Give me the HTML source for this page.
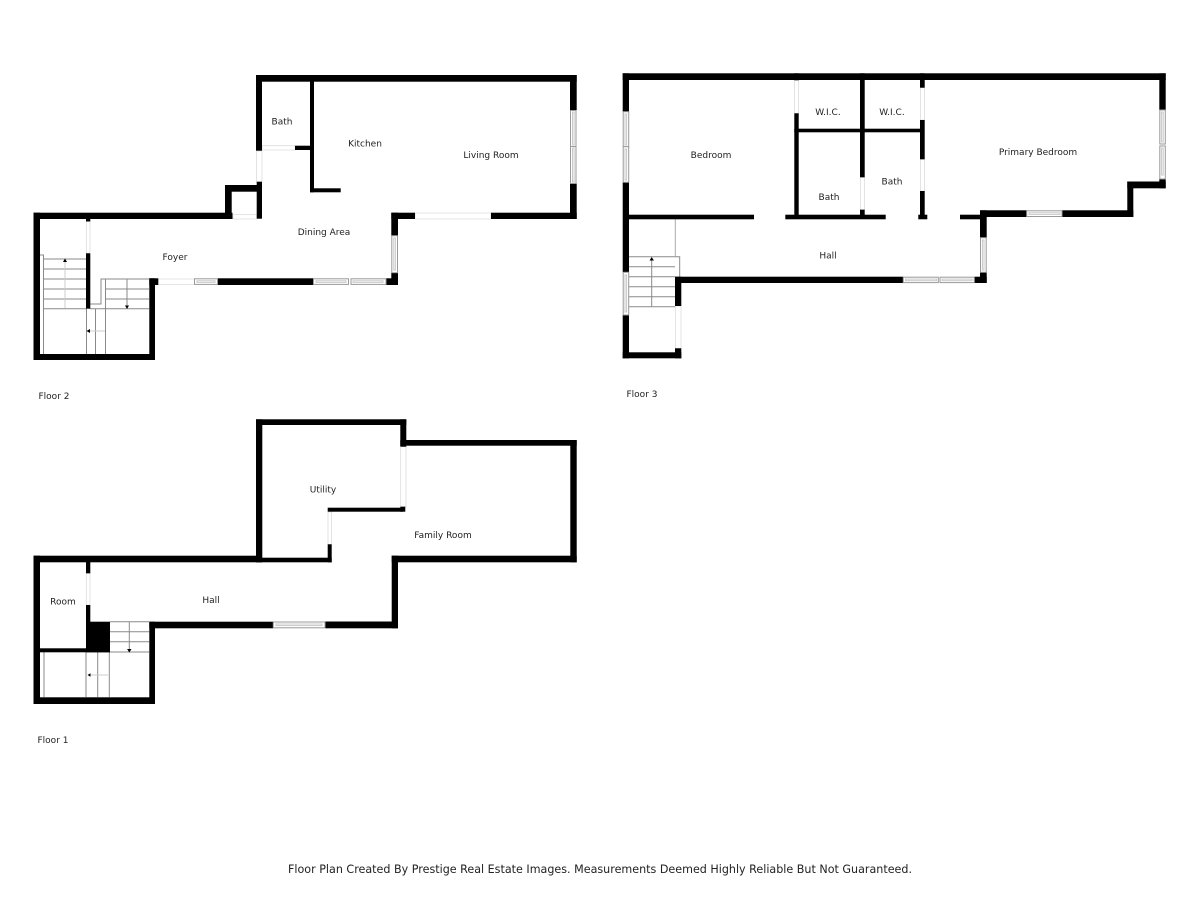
<!DOCTYPE html>
<html><head><meta charset="utf-8"><style>
html,body{margin:0;padding:0;background:#fff}
svg{display:block}
.w{fill:#000}
.d{fill:#fff;stroke:#ddd;stroke-width:.8}
.n{fill:#fff;stroke:#999;stroke-width:1}
.n .i{stroke:#c8c8c8;fill:#fff}
.s{stroke:#8a8a8a;stroke-width:1;fill:none}
.f{stroke:#ccc;stroke-width:1;fill:none}
text{font-family:"DejaVu Sans","Liberation Sans",sans-serif;font-size:9px;fill:#222;text-anchor:middle}
</style></head><body>
<svg width="1200" height="900" viewBox="0 0 1200 900" xmlns="http://www.w3.org/2000/svg">
<rect width="1200" height="900" fill="#fff"/>

<!-- FLOOR 2 -->
<g class="s">
<path d="M40 255H43.5V354M43.5 259H86M43.5 269H86M43.5 279H86M43.5 289H86M43.5 299H86M43.5 308.7H86"/>
<path d="M90 304H101V279H149M105.5 279V354M105.5 289H149M105.5 299H149M90 308.7H149M86.5 308.7V354M95.5 308.7V354M127 279V306"/>
</g>
<path class="f" d="M65 262V308M90 331H105"/>
<path class="d" d="M86.5 221H90V253H86.5zM256.5 151H262V182H256.5zM262 145.7H295V150H262zM233 214.5H257V219H233zM158 279H194.5V284.5H158zM415 213H491V219H415z"/>
<g class="w">
<rect x="33.5" y="212.7" width="6.5" height="147.3"/>
<rect x="33.5" y="212.7" width="199" height="6.3"/>
<rect x="225" y="185" width="6.7" height="34"/>
<rect x="225" y="185" width="37" height="6.7"/>
<rect x="256.7" y="181.7" width="5.3" height="37"/>
<rect x="256" y="75" width="6" height="75.7"/>
<rect x="256" y="75" width="320.7" height="6.7"/>
<rect x="310" y="81" width="4" height="111.3"/>
<rect x="310" y="188.3" width="30.7" height="4"/>
<rect x="295" y="145.7" width="15" height="4.3"/>
<rect x="570" y="75" width="6.7" height="35"/>
<rect x="570" y="183.3" width="6.7" height="35.7"/>
<rect x="491" y="212.7" width="85.7" height="6.3"/>
<rect x="391.3" y="212.7" width="23.7" height="6.3"/>
<rect x="391.3" y="212.7" width="6.7" height="23"/>
<rect x="391.3" y="272.7" width="6.7" height="12.3"/>
<rect x="386" y="278.3" width="12" height="6.7"/>
<rect x="217.7" y="278.3" width="95.6" height="6.7"/>
<rect x="149.3" y="278.3" width="9" height="6.7"/>
<rect x="149.3" y="278.3" width="5.7" height="81.7"/>
<rect x="33.5" y="354" width="121.5" height="6"/>
<rect x="86" y="253.3" width="4.3" height="55.4"/>
<rect x="86" y="218" width="4.3" height="3.5"/>
</g>
<g class="n">
<rect x="570.5" y="110.5" width="5.5" height="36"/><rect x="570.5" y="146.5" width="5.5" height="37"/>
<rect class="i" x="572.5" y="112" width="1.6" height="33"/><rect class="i" x="572.5" y="148" width="1.6" height="34"/>
<rect x="391.8" y="235.7" width="5.7" height="37"/><rect class="i" x="393.8" y="238" width="1.6" height="32"/>
<rect x="313.5" y="278.8" width="35" height="5.6"/><rect x="351" y="278.8" width="35" height="5.6"/>
<rect class="i" x="316" y="280.8" width="30" height="1.6"/><rect class="i" x="353" y="280.8" width="30" height="1.6"/>
<rect x="194.5" y="278.8" width="23" height="5.6"/><rect class="i" x="197" y="280.8" width="18" height="1.6"/>
</g>
<path d="M65 258.5l-2 3.5h4zM127 309l-2-3.5h4zM86.5 331l3.5-2v4z" fill="#000"/>

<!-- FLOOR 3 -->
<g class="s">
<path d="M629 256.7H679.7V276.7M629 266.7H675M629 276.7H675M629 286.7H675M629 296.7H675M629 306.7H675M651.7 259V306.7"/>
<path d="M675.3 219V256.7" stroke="#aaa"/>
</g>
<path class="d" d="M794.5 80H798.5V113.3H794.5zM860.5 177.3H864.5V209.7H860.5zM920.5 87.7H924.5V120H920.5zM920.5 159.3H924.5V191H920.5zM675.5 306H681V348.3H675.5z"/>
<g class="w">
<rect x="622.7" y="73.3" width="6.3" height="38.4"/>
<rect x="622.7" y="182.3" width="6.3" height="90"/>
<rect x="622.7" y="315" width="6.3" height="43.3"/>
<rect x="622.7" y="73.3" width="543" height="6.7"/>
<rect x="1159.3" y="73.3" width="6.4" height="36.7"/>
<rect x="1159.3" y="179" width="6.4" height="9.3"/>
<rect x="1127.3" y="181.5" width="38.4" height="6.8"/>
<rect x="1127.3" y="181.5" width="6" height="35.5"/>
<rect x="980" y="210.3" width="46.7" height="6.7"/>
<rect x="1062" y="210.3" width="71.3" height="6.7"/>
<rect x="980" y="210.3" width="6.7" height="27.4"/>
<rect x="980" y="272.3" width="6.7" height="10.7"/>
<rect x="974.3" y="276.7" width="12.4" height="6.3"/>
<rect x="675" y="276.7" width="228.3" height="6.3"/>
<rect x="675" y="276.7" width="6.3" height="29.3"/>
<rect x="675" y="348.3" width="6.3" height="10"/>
<rect x="622.7" y="352.3" width="58.6" height="6"/>
<rect x="629" y="214.7" width="125" height="4.6"/>
<rect x="785.3" y="214.7" width="100.4" height="4.6"/>
<rect x="794.3" y="113.3" width="4.4" height="102"/>
<rect x="794.3" y="73.3" width="4.4" height="7"/>
<rect x="860" y="73.3" width="4.7" height="104"/>
<rect x="860" y="209.7" width="4.7" height="6"/>
<rect x="794.3" y="128.7" width="130" height="3.6"/>
<rect x="920" y="73.3" width="4.7" height="14.4"/>
<rect x="920" y="120" width="4.7" height="39.3"/>
<rect x="920" y="191" width="4.7" height="25"/>
<rect x="918.3" y="214.7" width="9" height="4.6"/>
<rect x="960" y="214.7" width="21" height="4.6"/>
</g>
<g class="n">
<rect x="623.2" y="111.7" width="5.5" height="35"/><rect x="623.2" y="146.7" width="5.5" height="35.6"/>
<rect class="i" x="625" y="114" width="1.6" height="31"/><rect class="i" x="625" y="149" width="1.6" height="31"/>
<rect x="623.2" y="272.3" width="5.5" height="42.7"/><rect class="i" x="625" y="275" width="1.6" height="37"/>
<rect x="1159.8" y="110" width="5.5" height="34"/><rect x="1159.8" y="146" width="5.5" height="33"/>
<rect class="i" x="1161.6" y="112" width="1.6" height="30"/><rect class="i" x="1161.6" y="148" width="1.6" height="27"/>
<rect x="1026.7" y="210.8" width="35.3" height="5.7"/><rect class="i" x="1029" y="212.8" width="31" height="1.6"/>
<rect x="980.5" y="237.7" width="5.7" height="34.6"/><rect class="i" x="982.4" y="240" width="1.6" height="30"/>
<rect x="903.3" y="277.2" width="35" height="5.4"/><rect x="940" y="277.2" width="34.3" height="5.4"/>
<rect class="i" x="905.5" y="279.1" width="31" height="1.6"/><rect class="i" x="942" y="279.1" width="30" height="1.6"/>
</g>
<path d="M651.7 257l-2.2 3.5h4.4z" fill="#000"/>

<!-- FLOOR 1 -->
<g class="s">
<path d="M110 621.7H149M110 631.7H149M110 641.7H149M110 652H149M129.3 622V650M44 652V697M86 652V697M97.7 652V697M109.3 652V697"/>
</g>
<path class="f" d="M90 675H108"/>
<path class="d" d="M86.3 573.3H90V605H86.3zM400.7 446.7H406V506.7H400.7zM328 512H331.5V544.3H328z"/>
<g class="w">
<rect x="33.5" y="555.7" width="6.5" height="148.3"/>
<rect x="33.5" y="555.7" width="228.5" height="6.6"/>
<rect x="256" y="557.7" width="75.7" height="4.6"/>
<rect x="256" y="419.3" width="6.3" height="143"/>
<rect x="256" y="419.3" width="150.3" height="5.7"/>
<rect x="400.3" y="419.3" width="6" height="27.4"/>
<rect x="400.3" y="506.7" width="5" height="5"/>
<rect x="400.3" y="440" width="176.4" height="5.7"/>
<rect x="570.3" y="440" width="6.4" height="122.3"/>
<rect x="391.7" y="555.7" width="185" height="6.6"/>
<rect x="391.7" y="555.7" width="6.3" height="72.6"/>
<rect x="325" y="621.5" width="73" height="6.8"/>
<rect x="149.3" y="621.7" width="124" height="6.6"/>
<rect x="149.3" y="621.7" width="5.7" height="82.3"/>
<rect x="33.5" y="697.3" width="121.5" height="6.7"/>
<rect x="327.7" y="507.7" width="75" height="4"/>
<rect x="327.7" y="544.3" width="4" height="18"/>
<rect x="86" y="562" width="4.3" height="11.3"/>
<rect x="86" y="605" width="4.3" height="17"/>
<rect x="86" y="621.7" width="24" height="30.6"/>
<rect x="40" y="648.3" width="70" height="4"/>
</g>
<g class="n">
<rect x="273.3" y="622" width="51.7" height="5.8"/><rect class="i" x="276" y="624" width="46" height="1.6"/>
</g>
<path d="M129.3 652.5l-2.2-3.5h4.4zM87.5 675l3-1.8v3.6z" fill="#000"/>

<!-- LABELS -->
<text x="282" y="124.5">Bath</text>
<text x="365" y="146.5">Kitchen</text>
<text x="491" y="158">Living Room</text>
<text x="324" y="235">Dining Area</text>
<text x="175" y="260">Foyer</text>
<text x="54" y="399">Floor 2</text>
<text x="711" y="158">Bedroom</text>
<text x="828" y="115">W.I.C.</text>
<text x="892" y="115">W.I.C.</text>
<text x="892" y="184.5">Bath</text>
<text x="829" y="200">Bath</text>
<text x="1038" y="155">Primary Bedroom</text>
<text x="828" y="258.5">Hall</text>
<text x="642" y="397">Floor 3</text>
<text x="323" y="492.5">Utility</text>
<text x="443" y="538">Family Room</text>
<text x="63" y="604.5">Room</text>
<text x="211" y="603">Hall</text>
<text x="53" y="743">Floor 1</text>
<text x="600" y="873" style="font-size:11.5px" textLength="624" lengthAdjust="spacingAndGlyphs">Floor Plan Created By Prestige Real Estate Images. Measurements Deemed Highly Reliable But Not Guaranteed.</text>
</svg>
</body></html>
